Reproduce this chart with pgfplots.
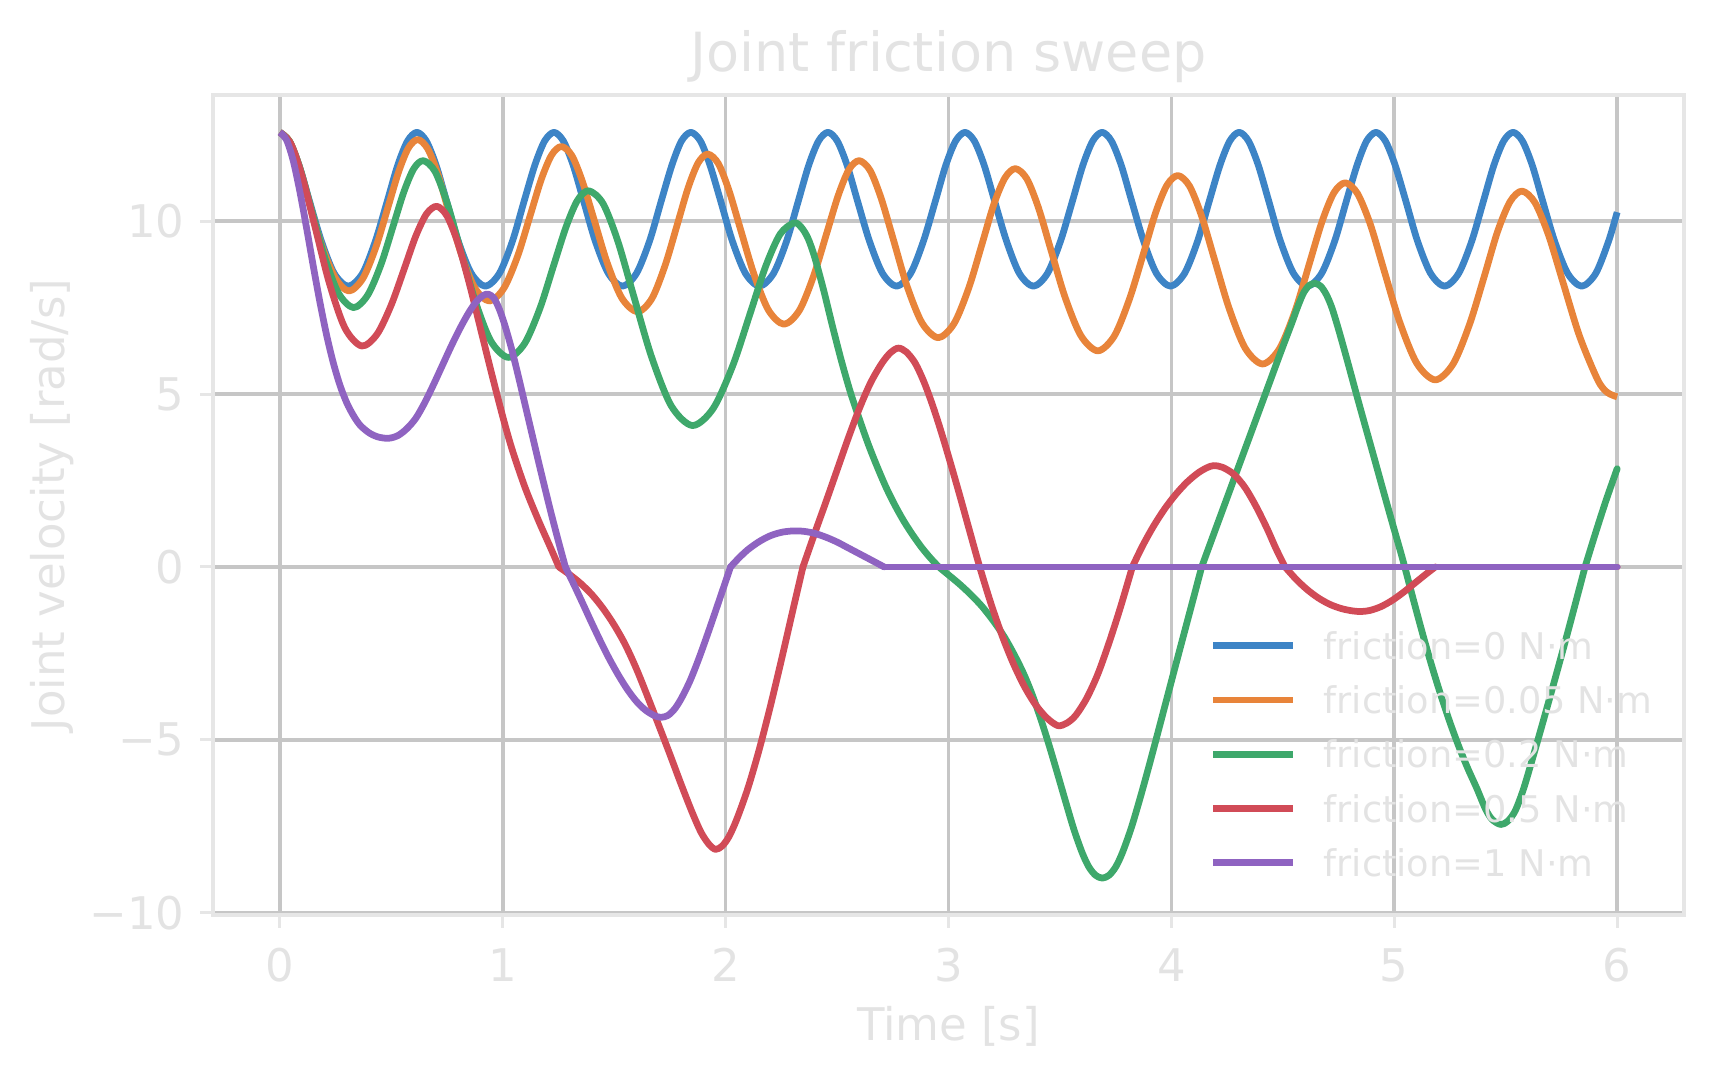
\documentclass[border=0pt]{standalone}
\usepackage{fontspec}
\setmainfont{DejaVu Sans}
\usepackage{pgfplots}
\pgfplotsset{compat=1.18}
\definecolor{cblue}{HTML}{3D84C6}
\definecolor{corange}{HTML}{E8843A}
\definecolor{cgreen}{HTML}{3EA86B}
\definecolor{cred}{HTML}{D14B57}
\definecolor{cpurple}{HTML}{8F63C1}
\definecolor{txt}{HTML}{E3E3E3}
\definecolor{framec}{HTML}{E6E6E6}
\definecolor{gridc}{HTML}{C6C6C6}
\begin{document}
\begin{tikzpicture}
\begin{axis}[
  scale only axis, width=392.3pt, height=218.7pt,
  xmin=-0.3, xmax=6.3, ymin=-10.07, ymax=13.65,
  xtick={0,1,2,3,4,5,6}, ytick={-10,-5,0,5,10},
  yticklabels={−10,−5,0,5,10},
  grid=major, major grid style={gridc, line width=1.0pt},
  axis line style={framec, line width=1.1pt},
  tick pos=left, tick align=outside, major tick length=3.5pt,
  major tick style={framec, line width=0.8pt},
  tick label style={font=\fontsize{12}{14}\selectfont, text=txt},
  /pgf/number format/assume math mode=true,
  xticklabel style={anchor=base, inner sep=0pt, yshift=-14.3pt},
  yticklabel style={anchor=east, inner sep=0pt, xshift=-3.9pt},
  legend cell align=left,
  legend style={draw=none, fill=none, inner sep=0pt, outer sep=0pt,
    at={(0.6777,0.3452)}, anchor=north west, row sep=7.18pt,
    font=\fontsize{9.8}{12}\selectfont, text=txt,
    nodes={inner sep=0pt, text height=7.3pt, text depth=0pt}},
  legend image code/.code={\draw[#1, line width=1.8pt] (0pt,0pt) -- (21.3pt,0pt); \path (28.6pt,0pt);},
  every axis plot/.append style={line width=1.8pt, line join=round},
  piece/.style={smooth, line cap=round, forget plot},
]
\addplot[cblue, smooth] coordinates {
(0,12.57)(0.042,12.32)(0.086,11.62)(0.133,10.58)(0.186,9.43)(0.244,8.49)(0.307,8.12)(0.371,8.49)(0.429,9.43)(0.482,10.58)(0.529,11.62)(0.573,12.32)
(0.615,12.57)(0.657,12.32)(0.701,11.62)(0.748,10.58)(0.800,9.43)(0.859,8.49)(0.922,8.12)(0.985,8.49)(1.044,9.43)(1.096,10.58)(1.144,11.62)(1.188,12.32)
(1.230,12.57)(1.272,12.32)(1.316,11.62)(1.363,10.58)(1.415,9.43)(1.474,8.49)(1.537,8.12)(1.600,8.49)(1.659,9.43)(1.711,10.58)(1.759,11.62)(1.802,12.32)
(1.844,12.57)(1.887,12.32)(1.930,11.62)(1.978,10.58)(2.030,9.43)(2.089,8.49)(2.152,8.12)(2.215,8.49)(2.274,9.43)(2.326,10.58)(2.373,11.62)(2.417,12.32)
(2.459,12.57)(2.501,12.32)(2.545,11.62)(2.592,10.58)(2.645,9.43)(2.704,8.49)(2.767,8.12)(2.830,8.49)(2.888,9.43)(2.941,10.58)(2.988,11.62)(3.032,12.32)
(3.074,12.57)(3.116,12.32)(3.160,11.62)(3.207,10.58)(3.260,9.43)(3.318,8.49)(3.381,8.12)(3.444,8.49)(3.503,9.43)(3.556,10.58)(3.603,11.62)(3.647,12.32)
(3.689,12.57)(3.731,12.32)(3.775,11.62)(3.822,10.58)(3.875,9.43)(3.933,8.49)(3.996,8.12)(4.059,8.49)(4.118,9.43)(4.170,10.58)(4.218,11.62)(4.262,12.32)
(4.304,12.57)(4.346,12.32)(4.390,11.62)(4.437,10.58)(4.489,9.43)(4.548,8.49)(4.611,8.12)(4.674,8.49)(4.733,9.43)(4.785,10.58)(4.833,11.62)(4.876,12.32)
(4.918,12.57)(4.960,12.32)(5.004,11.62)(5.052,10.58)(5.104,9.43)(5.163,8.49)(5.226,8.12)(5.289,8.49)(5.348,9.43)(5.400,10.58)(5.447,11.62)(5.491,12.32)
(5.533,12.57)(5.575,12.32)(5.619,11.62)(5.666,10.58)(5.719,9.43)(5.778,8.49)(5.841,8.12)(5.904,8.49)(5.962,9.43)(6.000,10.26)
};
\addlegendentry{friction=0 N·m}
\addplot[corange, smooth] coordinates {
(0,12.57)(0.043,12.32)(0.087,11.59)(0.133,10.52)(0.186,9.33)(0.248,8.37)(0.310,7.98)
(0.373,8.35)(0.432,9.27)(0.485,10.40)(0.533,11.43)(0.577,12.12)(0.619,12.36)
(0.663,12.10)(0.709,11.37)(0.758,10.27)(0.813,9.07)(0.874,8.08)(0.940,7.69)
(1.006,8.07)(1.068,9.01)(1.123,10.16)(1.173,11.21)(1.219,11.91)(1.263,12.16)
(1.310,11.90)(1.358,11.14)(1.411,10.02)(1.469,8.79)(1.534,7.78)(1.604,7.38)
(1.669,7.76)(1.729,8.73)(1.783,9.90)(1.832,10.97)(1.877,11.69)(1.920,11.94)
(1.967,11.67)(2.015,10.89)(2.068,9.74)(2.127,8.47)(2.192,7.43)(2.262,7.02)
(2.331,7.42)(2.395,8.42)(2.453,9.64)(2.505,10.74)(2.553,11.49)(2.599,11.75)
(2.648,11.47)(2.698,10.66)(2.753,9.46)(2.813,8.14)(2.881,7.06)(2.954,6.63)
(3.025,7.04)(3.091,8.07)(3.150,9.33)(3.203,10.48)(3.253,11.25)(3.300,11.52)
(3.351,11.23)(3.403,10.40)(3.460,9.16)(3.523,7.80)(3.594,6.69)(3.670,6.25)
(3.744,6.68)(3.812,7.75)(3.874,9.05)(3.929,10.24)(3.980,11.04)(4.029,11.32)
(4.081,11.02)(4.135,10.16)(4.194,8.88)(4.259,7.48)(4.331,6.33)(4.409,5.87)
(4.485,6.31)(4.556,7.42)(4.619,8.77)(4.676,9.99)(4.729,10.82)(4.780,11.11)
(4.835,10.80)(4.893,9.90)(4.955,8.56)(5.024,7.09)(5.101,5.89)(5.184,5.41)
(5.264,5.87)(5.338,7.02)(5.405,8.43)(5.464,9.71)(5.520,10.57)(5.573,10.87)
(5.631,10.54)(5.692,9.60)(5.758,8.21)(5.831,6.68)(5.912,5.42)(5.955,5.05)(6.000,4.92)
};
\addlegendentry{friction=0.05 N·m}
\addplot[cgreen, smooth] coordinates {
(0,12.57)(0.045,12.29)(0.092,11.49)(0.143,10.30)(0.199,9.00)(0.262,7.93)(0.330,7.50)
(0.394,7.86)(0.454,8.75)(0.508,9.85)(0.556,10.84)(0.601,11.52)(0.644,11.75)
(0.696,11.44)(0.750,10.54)(0.809,9.21)(0.874,7.74)(0.946,6.54)(1.024,6.06)
(1.098,6.46)(1.167,7.48)(1.229,8.73)(1.285,9.85)(1.336,10.61)(1.386,10.88)
(1.450,10.51)(1.516,9.43)(1.587,7.85)(1.667,6.09)(1.756,4.66)(1.851,4.09)
(1.944,4.58)(2.032,5.82)(2.110,7.33)(2.180,8.70)(2.245,9.63)(2.307,9.95)
(2.34,9.82)(2.37,9.5)(2.40,8.95)(2.44,8.0)(2.48,6.95)(2.52,5.95)(2.56,5.05)(2.60,4.28)(2.64,3.55)(2.68,2.9)(2.72,2.3)(2.76,1.78)(2.80,1.32)(2.84,0.92)(2.88,0.56)(2.92,0.25)(2.957,0)
(3.00,-0.23)(3.05,-0.5)(3.10,-0.8)(3.15,-1.14)(3.20,-1.55)(3.25,-2.02)(3.30,-2.6)(3.34,-3.13)(3.376,-3.7)(3.415,-4.42)(3.451,-5.15)(3.49,-6.0)(3.526,-6.8)(3.563,-7.6)(3.60,-8.27)(3.63,-8.68)(3.66,-8.92)(3.69,-9.0)
(3.72,-8.92)(3.75,-8.68)(3.78,-8.27)(3.82,-7.55)(3.86,-6.68)(3.90,-5.75)(3.94,-4.78)(3.98,-3.8)(4.02,-2.82)(4.06,-1.85)(4.10,-0.88)(4.136,0)
};
\addlegendentry{friction=0.2 N·m}
\addplot[cgreen, piece] coordinates {
(4.136,0)(4.19,0.95)(4.25,2.0)(4.31,3.05)(4.37,4.1)(4.43,5.15)(4.49,6.2)(4.54,7.05)(4.57,7.58)(4.595,7.95)(4.62,8.15)(4.645,8.2)
(4.67,8.12)(4.695,7.88)(4.72,7.5)(4.75,6.87)(4.79,5.95)(4.83,5.0)(4.87,4.07)(4.91,3.15)(4.95,2.22)(4.99,1.3)(5.03,0.4)(5.047,0)
(5.09,-1.05)(5.13,-2.0)(5.17,-2.9)(5.21,-3.73)(5.25,-4.5)(5.29,-5.2)(5.33,-5.83)(5.37,-6.4)(5.41,-7.01)(5.44,-7.31)(5.478,-7.45)
(5.51,-7.35)(5.543,-7.05)(5.58,-6.42)(5.62,-5.55)(5.66,-4.65)(5.70,-3.73)(5.74,-2.8)(5.78,-1.85)(5.82,-0.88)(5.856,0)
};
\addplot[cgreen, piece] coordinates {(5.856,0)(5.90,0.92)(5.95,1.92)(6.00,2.84)};
\addplot[cred, smooth] coordinates {
(0,12.57)(0.050,12.23)(0.102,11.25)(0.159,9.81)(0.222,8.21)(0.292,6.91)(0.367,6.39)
(0.436,6.73)(0.500,7.58)(0.558,8.62)(0.610,9.57)(0.658,10.21)(0.704,10.43)
(0.75,10.15)(0.80,9.35)(0.85,8.2)(0.90,6.9)(0.95,5.6)(1.0,4.35)(1.042,3.40)(1.10,2.30)(1.16,1.35)(1.215,0.55)(1.252,0)
};
\addlegendentry{friction=0.5 N·m}
\addplot[cred, piece] coordinates {
(1.252,0)(1.30,-0.22)(1.35,-0.48)(1.40,-0.80)(1.45,-1.2)(1.50,-1.68)(1.55,-2.25)(1.60,-2.95)(1.65,-3.75)(1.70,-4.58)(1.75,-5.42)(1.80,-6.28)(1.85,-7.1)(1.89,-7.68)(1.925,-8.02)(1.955,-8.17)
(1.985,-8.07)(2.015,-7.8)(2.05,-7.3)(2.10,-6.4)(2.15,-5.3)(2.20,-4.05)(2.25,-2.7)(2.30,-1.3)(2.347,0)
};
\addplot[cred, piece] coordinates {
(2.347,0)(2.40,0.98)(2.45,1.88)(2.50,2.80)(2.55,3.72)(2.60,4.58)(2.65,5.32)(2.70,5.88)(2.74,6.2)(2.775,6.33)
(2.81,6.22)(2.85,5.9)(2.89,5.35)(2.93,4.65)(2.97,3.85)(3.01,2.98)(3.05,2.08)(3.09,1.15)(3.14,0)
(3.19,-1.05)(3.24,-1.98)(3.29,-2.78)(3.34,-3.45)(3.39,-3.98)(3.44,-4.36)(3.49,-4.59)(3.53,-4.52)(3.57,-4.3)(3.62,-3.8)(3.67,-3.1)(3.72,-2.2)(3.77,-1.2)(3.825,0)
};
\addplot[cred, piece] coordinates {
(3.825,0)(3.87,0.6)(3.92,1.18)(3.97,1.68)(4.02,2.1)(4.07,2.45)(4.12,2.72)(4.16,2.87)(4.19,2.93)(4.23,2.88)(4.28,2.68)(4.33,2.3)(4.38,1.75)(4.43,1.1)(4.47,0.52)(4.51,0)
};
\addplot[cred, piece] coordinates {
(4.51,0)(4.56,-0.36)(4.61,-0.66)(4.66,-0.9)(4.71,-1.08)(4.76,-1.2)(4.81,-1.27)(4.85,-1.29)(4.89,-1.26)(4.94,-1.15)(4.99,-0.97)(5.04,-0.74)(5.09,-0.48)(5.14,-0.22)(5.184,0)
};
\addplot[cred, line cap=round, forget plot] coordinates {(5.184,0)(6.0,0)};
\addplot[cpurple, smooth] coordinates {
(0,12.57)(0.03,12.35)(0.06,11.75)(0.09,10.85)(0.12,9.8)(0.15,8.7)(0.18,7.65)(0.21,6.7)(0.24,5.9)(0.27,5.25)(0.30,4.75)(0.33,4.38)(0.36,4.1)(0.40,3.88)(0.44,3.76)(0.487,3.72)
(0.53,3.8)(0.57,4.0)(0.61,4.3)(0.65,4.75)(0.69,5.28)(0.73,5.84)(0.77,6.4)(0.81,6.92)(0.85,7.38)(0.885,7.7)(0.915,7.86)(0.935,7.89)
(0.96,7.78)(0.985,7.45)(1.01,6.98)(1.04,6.3)(1.07,5.52)(1.10,4.7)(1.13,3.88)(1.16,3.06)(1.19,2.26)(1.22,1.48)(1.25,0.74)(1.281,0)
};
\addlegendentry{friction=1 N·m}
\addplot[cpurple, piece] coordinates {
(1.281,0)(1.32,-0.52)(1.36,-1.07)(1.40,-1.63)(1.44,-2.17)(1.48,-2.68)(1.52,-3.14)(1.56,-3.55)(1.60,-3.89)(1.64,-4.14)(1.68,-4.3)(1.71,-4.35)(1.74,-4.3)(1.77,-4.12)(1.80,-3.82)(1.84,-3.3)(1.88,-2.65)(1.92,-1.93)(1.96,-1.18)(2.00,-0.42)(2.022,0)
};
\addplot[cpurple, piece] coordinates {
(2.022,0)(2.06,0.26)(2.10,0.5)(2.15,0.73)(2.20,0.9)(2.25,1.0)(2.30,1.04)(2.35,1.03)(2.40,0.97)(2.45,0.86)(2.50,0.72)(2.55,0.55)(2.60,0.38)(2.65,0.21)(2.711,0)
};
\addplot[cpurple, line cap=round, forget plot] coordinates {(2.711,0)(6,0)};
\end{axis}
\node[anchor=base, inner sep=0pt, font=\fontsize{14.4}{17}\selectfont, text=txt] at ([yshift=6.21pt]current axis.north) {Joint friction sweep};
\node[anchor=base, inner sep=0pt, font=\fontsize{12}{14}\selectfont, text=txt] at ([yshift=-33.4pt]current axis.south) {Time [s]};
\node[anchor=base, rotate=90, inner sep=0pt, font=\fontsize{12}{14}\selectfont, text=txt] at ([xshift=-39.5pt]current axis.west) {Joint velocity [rad/s]};
\pgfresetboundingbox
\path ([xshift=-56.8pt, yshift=-44.0pt]current axis.south west) rectangle ([xshift=8.0pt, yshift=25.33pt]current axis.north east);
\end{tikzpicture}
\end{document}
